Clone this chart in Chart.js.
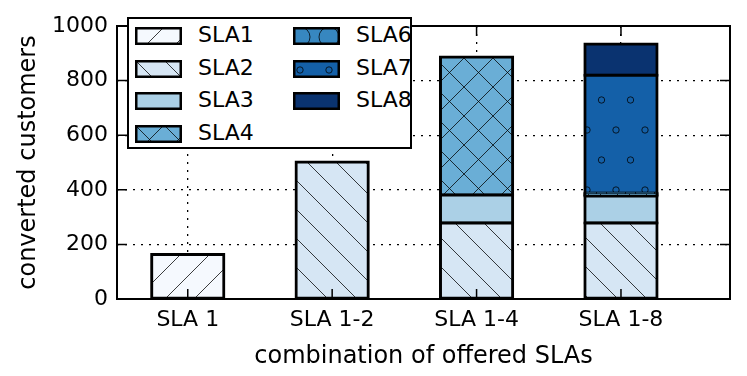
<!DOCTYPE html>
<html>
<head>
<meta charset="utf-8">
<script src="https://cdn.jsdelivr.net/npm/chart.js@4/dist/chart.umd.min.js"></script>
<style>
body { margin: 0; background: #fff; }
#wrap { position: relative; width: 747px; height: 376px; }
#legend {
    position: absolute; left: 127px; top: 17px; width: 281px; height: 128px;
    border: 2px solid #000; background: #fff;
    font-family: "DejaVu Sans"; font-size: 22px; color: #000;
}
.item { position: absolute; height: 18px; }
.item canvas { position: absolute; left: 0; top: 0; }
.item span { position: absolute; left: 63px; top: -5px; white-space: nowrap; }
</style>
</head>
<body>
<div id="wrap">
    <canvas id="chart" width="747" height="376"></canvas>
    <div id="legend"></div>
</div>
<script>
const categories = ["SLA 1", "SLA 1-2", "SLA 1-4", "SLA 1-8"];
const seriesNames = ["SLA1", "SLA2", "SLA3", "SLA4", "SLA6", "SLA7", "SLA8"];
const sla1 = [163, null, null, null];
const sla2 = [null, 502, 278, 278];
const sla3 = [null, null, 103, 99];
const sla4 = [null, null, 505, 5];
const sla6 = [null, null, null, 5];
const sla7 = [null, null, null, 433];
const sla8 = [null, null, null, 114];
const yTicks = [0, 200, 400, 600, 800, 1000];

const colors = ["#f5f9fe", "#d6e6f4", "#abd0e6", "#6aaed6", "#3787c0", "#1460a8", "#0a3370"];
const hatches = ["/", "\\", "", "x", "O", "o", ""];
const values = [sla1, sla2, sla3, sla4, sla6, sla7, sla8];

// hatch patterns, like matplotlib's
function makePattern(color, hatch) {
    const w = 29, h = (hatch === "o" || hatch === "O") ? 60 : 29;
    const c = document.createElement("canvas");
    c.width = w; c.height = h;
    const g = c.getContext("2d");
    g.fillStyle = color;
    g.fillRect(0, 0, w, h);
    g.strokeStyle = "rgba(0,0,0,0.85)";
    g.lineWidth = 0.9;
    g.beginPath();
    for (let k = -1; k <= 1; k++) {
        if (hatch === "/" || hatch === "x") {
            g.moveTo(k * w, h); g.lineTo(k * w + w, 0);
        }
        if (hatch === "\\" || hatch === "x") {
            g.moveTo(k * w, 0); g.lineTo(k * w + w, h);
        }
    }
    g.stroke();
    if (hatch === "o" || hatch === "O") {
        const r = hatch === "o" ? 3.2 : 10;
        const pts = [[7, 10], [21.5, 40], [7 + w, 10], [21.5 - w, 40], [7, 10 + h], [21.5, 40 - h]];
        pts.forEach(p => {
            g.beginPath();
            g.arc(p[0], p[1], r, 0, Math.PI * 2);
            g.stroke();
        });
    }
    return g.createPattern(c, "repeat");
}

const patterns = colors.map((col, i) => hatches[i] ? makePattern(col, hatches[i]) : col);

const datasets = seriesNames.map((name, i) => ({
    label: name,
    data: values[i].map((v, j) => ({ x: j, y: v })).filter(p => p.y !== null),
    backgroundColor: patterns[i],
    borderColor: "#000",
    borderWidth: 3,
    inflateAmount: 1.5,
    borderSkipped: false,
    barPercentage: 0.5,
    categoryPercentage: 1.0
}));

const font = { family: "DejaVu Sans", size: 22 };
const titleFont = { family: "DejaVu Sans", size: 24 };

// frame and inward tick marks
const frameTicks = {
    id: "frameTicks",
    afterDraw(chart) {
        const ctx = chart.ctx;
        const { left, right, top, bottom } = chart.chartArea;
        ctx.save();
        ctx.strokeStyle = "#000";
        ctx.lineWidth = 1.5;
        ctx.beginPath();
        chart.scales.y.ticks.forEach(t => {
            const y = chart.scales.y.getPixelForValue(t.value);
            ctx.moveTo(left, y); ctx.lineTo(left + 10, y);
            ctx.moveTo(right, y); ctx.lineTo(right - 10, y);
        });
        chart.scales.x.ticks.forEach(t => {
            const x = chart.scales.x.getPixelForValue(t.value);
            ctx.moveTo(x, bottom); ctx.lineTo(x, bottom - 10);
            ctx.moveTo(x, top); ctx.lineTo(x, top + 10);
        });
        ctx.stroke();
        ctx.lineWidth = 2;
        ctx.strokeRect(left, top, right - left, bottom - top);
        ctx.restore();
    }
};

new Chart(document.getElementById("chart"), {
    type: "bar",
    data: { datasets: datasets },
    options: {
        responsive: false,
        animation: false,
        layout: { padding: { left: 0, right: 17, top: 26, bottom: 0 } },
        plugins: { legend: { display: false }, tooltip: { enabled: false } },
        scales: {
            x: {
                type: "linear",
                stacked: true,
                offset: false,
                min: -0.49,
                max: 3.755,
                z: 1,
                afterBuildTicks: s => { s.ticks = categories.map((c, i) => ({ value: i })); },
                afterFit: s => { s.height = 77; },
                ticks: { callback: v => categories[v], color: "#000", font: font, padding: 8, maxRotation: 0 },
                grid: { color: "#000", lineWidth: 1.3, drawTicks: false, offset: false },
                border: { display: false, dash: [2, 6] },
                title: { display: true, text: "combination of offered SLAs", color: "#000", font: titleFont, padding: { top: 0, bottom: 5 } }
            },
            y: {
                stacked: true,
                min: 0,
                max: 1000,
                z: 1,
                afterBuildTicks: s => { s.ticks = yTicks.map(v => ({ value: v })); },
                afterFit: s => { s.width = 117; },
                ticks: { callback: v => String(v), color: "#000", font: font, padding: 9 },
                grid: { color: "#000", lineWidth: 1.3, drawTicks: false },
                border: { display: false, dash: [2, 6] },
                title: { display: true, text: "converted customers", color: "#000", font: titleFont, padding: { top: 14, bottom: 0 } }
            }
        }
    },
    plugins: [frameTicks]
});

// legend inside the plot, two columns
const legend = document.getElementById("legend");
seriesNames.forEach((name, i) => {
    const col = i < 4 ? 0 : 1;
    const row = i < 4 ? i : i - 4;
    const item = document.createElement("div");
    item.className = "item";
    item.style.left = (6 + col * 158) + "px";
    item.style.top = (8 + row * 32.7) + "px";
    const sw = document.createElement("canvas");
    sw.width = 47; sw.height = 18;
    const g = sw.getContext("2d");
    g.fillStyle = hatches[i] ? makePattern(colors[i], hatches[i]) : colors[i];
    g.fillRect(0, 0, 47, 18);
    g.strokeStyle = "#000";
    g.lineWidth = 2.5;
    g.strokeRect(1.25, 1.25, 44.5, 15.5);
    const label = document.createElement("span");
    label.textContent = name;
    item.appendChild(sw);
    item.appendChild(label);
    legend.appendChild(item);
});
</script>
</body>
</html>
